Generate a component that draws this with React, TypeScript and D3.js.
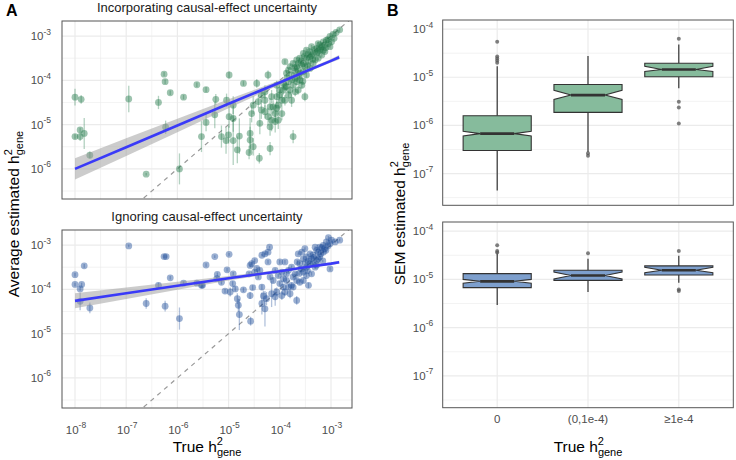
import React from 'react';
import * as d3 from 'd3';

// [log10 true h2, log10 estimated h2, error half-width in log10 units]
type Pt = [number, number, number];

const xTicksLeft = [-8, -7, -6, -5, -4, -3];
const yTicksLeft = [-6, -5, -4, -3];
const yTicksRight = [-7, -6, -5, -4];
const categories = ['0', '(0,1e-4)', '≥1e-4'];

const incorporating: Pt[] = [
  [-8.0, -4.38, 0.19], [-7.88, -4.43, 0.1], [-8.0, -5.27, 0.05], [-7.9, -5.27, 0.1],
  [-7.9, -5.12, 0.05], [-7.82, -5.2, 0.35], [-7.71, -5.69, 0.08], [-6.95, -4.42, 0.3],
  [-6.37, -4.5, 0.15], [-6.26, -3.86, 0.05], [-6.24, -4.03, 0.05], [-6.14, -4.28, 0.05],
  [-6.23, -5.06, 0.15], [-6.61, -6.12, 0.03], [-5.96, -6.0, 0.35], [-5.88, -4.38, 0.05],
  [-5.62, -4.1, 0.05], [-5.44, -4.21, 0.06], [-5.53, -5.27, 0.35], [-5.44, -4.95, 0.2],
  [-4.99, -3.88, 0.08], [-4.71, -4.07, 0.05], [-5.25, -4.43, 0.12], [-5.04, -4.45, 0.15],
  [-4.91, -4.56, 0.2], [-5.27, -4.78, 0.3], [-4.99, -4.82, 0.25], [-4.91, -4.86, 0.3],
  [-5.14, -5.27, 0.25], [-5.05, -5.36, 0.3], [-4.91, -5.36, 0.55], [-5.0, -5.23, 0.2],
  [-4.79, -5.26, 0.4], [-4.83, -5.57, 0.3], [-4.58, -5.2, 0.35], [-4.55, -4.75, 0.2],
  [-4.58, -5.35, 0.3], [-4.6, -5.63, 0.15], [-4.52, -5.5, 0.2], [-4.4, -5.76, 0.12],
  [-4.45, -4.07, 0.1], [-4.39, -4.97, 0.25], [-4.36, -4.67, 0.2], [-4.29, -4.45, 0.2],
  [-4.23, -3.88, 0.1], [-4.19, -4.6, 0.2], [-4.16, -4.9, 0.25], [-4.19, -5.54, 0.15],
  [-4.09, -4.93, 0.25], [-4.03, -4.9, 0.2], [-4.0, -4.22, 0.1], [-4.06, -4.37, 0.15],
  [-3.96, -4.45, 0.15], [-3.9, -3.58, 0.05], [-3.87, -4.14, 0.1], [-3.93, -4.07, 0.1],
  [-3.8, -4.22, 0.1], [-3.77, -4.45, 0.15], [-3.83, -3.77, 0.05], [-3.74, -5.27, 0.15],
  [-3.7, -3.96, 0.06], [-3.67, -3.69, 0.05], [-3.61, -3.84, 0.05], [-3.51, -4.37, 0.1],
  [-3.54, -3.62, 0.04], [-3.48, -3.5, 0.04], [-3.41, -3.47, 0.04], [-3.35, -3.39, 0.04],
  [-3.28, -3.28, 0.04], [-3.22, -3.2, 0.04], [-3.15, -3.13, 0.04], [-3.09, -3.09, 0.04],
  [-3.02, -3.01, 0.04], [-2.96, -2.96, 0.04], [-2.83, -2.86, 0.04], [-2.9, -2.92, 0.04],
  [-3.28, -3.39, 0.04], [-3.22, -3.32, 0.04], [-3.15, -3.32, 0.04], [-3.35, -3.62, 0.05],
  [-3.41, -3.73, 0.05], [-3.48, -3.88, 0.06], [-3.54, -3.8, 0.05], [-3.61, -3.99, 0.08],
  [-3.67, -4.03, 0.08], [-3.74, -4.11, 0.08], [-3.77, -3.88, 0.06], [-3.87, -3.84, 0.06],
  [-3.93, -4.22, 0.1], [-4.03, -4.56, 0.15], [-3.96, -4.75, 0.15], [-4.09, -4.75, 0.2],
  [-4.23, -4.82, 0.2], [-4.29, -4.71, 0.15], [-4.42, -4.48, 0.15], [-4.52, -4.56, 0.2],
  [-4.13, -4.6, 0.15], [-3.25, -3.17, 0.04], [-3.18, -3.24, 0.04], [-3.12, -3.2, 0.04],
  [-3.05, -3.17, 0.04], [-3.41, -3.35, 0.04], [-3.48, -3.32, 0.04], [-3.54, -3.39, 0.04],
  [-3.61, -3.5, 0.04], [-3.67, -3.54, 0.05], [-3.74, -3.62, 0.05], [-3.8, -3.69, 0.05],
  [-3.31, -3.54, 0.05], [-3.25, -3.5, 0.04], [-3.18, -3.43, 0.04], [-3.12, -3.35, 0.04],
  [-3.02, -3.24, 0.04], [-2.99, -3.13, 0.04], [-3.38, -3.24, 0.04], [-3.44, -3.58, 0.05],
  [-3.51, -3.69, 0.05], [-3.57, -3.65, 0.05], [-3.64, -3.77, 0.05], [-3.7, -3.8, 0.06],
  [-3.83, -4.03, 0.08], [-3.9, -4.14, 0.1], [-4.0, -4.33, 0.12], [-4.06, -4.11, 0.1],
  [-4.16, -4.37, 0.15], [-4.29, -4.26, 0.15], [-4.36, -4.33, 0.15], [-3.57, -4.11, 0.08],
  [-3.64, -4.22, 0.1], [-3.7, -4.26, 0.1], [-3.83, -4.33, 0.1], [-3.9, -4.45, 0.12],
  [-4.06, -4.63, 0.15], [-4.19, -5.05, 0.2], [-3.45, -3.42, 0.04], [-3.38, -3.44, 0.04],
  [-3.32, -3.3, 0.04], [-3.26, -3.36, 0.04], [-3.2, -3.28, 0.04], [-3.1, -3.26, 0.04],
  [-3.06, -3.08, 0.04], [-2.94, -3.05, 0.04], [-3.58, -3.56, 0.04], [-3.52, -3.46, 0.04],
  [-3.64, -3.62, 0.05], [-3.71, -3.72, 0.05], [-3.76, -3.98, 0.06], [-3.46, -3.66, 0.05],
  [-3.36, -3.52, 0.05], [-3.62, -3.9, 0.06], [-3.55, -4.02, 0.08], [-3.86, -3.94, 0.07],
];

const ignoring: Pt[] = [
  [-8.0, -3.67, 0.04], [-8.0, -3.89, 0.04], [-7.9, -3.99, 0.04], [-7.87, -3.89, 0.04],
  [-7.82, -3.47, 0.04], [-7.9, -4.27, 0.2], [-7.71, -4.42, 0.12], [-6.95, -3.02, 0.03],
  [-6.61, -4.32, 0.12], [-6.37, -3.91, 0.06], [-6.26, -3.26, 0.03], [-6.22, -3.26, 0.03],
  [-6.24, -4.38, 0.12], [-6.14, -3.74, 0.04], [-5.96, -4.66, 0.25], [-5.88, -3.86, 0.04],
  [-5.62, -3.86, 0.04], [-5.53, -3.91, 0.06], [-5.44, -3.45, 0.04], [-5.27, -3.26, 0.03],
  [-4.99, -3.21, 0.03], [-5.51, -3.91, 0.05], [-5.22, -3.66, 0.04], [-5.23, -3.76, 0.04],
  [-5.14, -3.84, 0.05], [-5.03, -3.56, 0.04], [-5.07, -4.04, 0.05], [-4.97, -4.06, 0.1],
  [-4.91, -3.65, 0.04], [-4.92, -3.87, 0.05], [-4.87, -3.99, 0.06], [-4.83, -4.21, 0.12],
  [-4.81, -4.36, 0.15], [-4.79, -4.57, 0.35], [-4.71, -4.01, 0.05], [-4.6, -3.65, 0.04],
  [-4.58, -4.14, 0.08], [-4.57, -4.72, 0.1], [-4.53, -3.96, 0.05], [-4.55, -3.42, 0.04],
  [-4.49, -3.35, 0.04], [-4.45, -3.53, 0.04], [-4.39, -3.57, 0.04], [-4.35, -3.95, 0.06],
  [-4.35, -4.32, 0.25], [-4.32, -4.15, 0.12], [-4.29, -4.44, 0.4], [-4.35, -3.23, 0.03],
  [-4.29, -3.2, 0.03], [-4.23, -3.16, 0.03], [-4.2, -3.05, 0.03], [-4.23, -3.38, 0.04],
  [-4.19, -3.72, 0.04], [-4.16, -4.1, 0.3], [-4.26, -4.21, 0.15], [-4.09, -4.17, 0.2],
  [-4.06, -4.06, 0.1], [-4.13, -3.8, 0.05], [-4.0, -3.38, 0.04], [-3.96, -3.61, 0.04],
  [-3.93, -3.95, 0.06], [-3.9, -3.38, 0.04], [-3.87, -3.8, 0.05], [-3.83, -3.57, 0.04],
  [-3.8, -4.1, 0.1], [-3.77, -3.91, 0.06], [-3.74, -3.72, 0.04], [-3.67, -4.25, 0.1],
  [-3.66, -3.38, 0.04], [-3.64, -3.2, 0.03], [-3.61, -3.84, 0.05], [-3.57, -3.16, 0.03],
  [-3.54, -3.61, 0.04], [-3.51, -3.08, 0.03], [-3.48, -3.27, 0.03], [-3.44, -3.91, 0.06],
  [-3.41, -3.42, 0.03], [-3.38, -3.65, 0.04], [-3.35, -3.23, 0.03], [-3.31, -3.5, 0.04],
  [-3.28, -3.35, 0.03], [-3.25, -3.16, 0.03], [-3.22, -3.27, 0.03], [-3.18, -3.06, 0.03],
  [-3.15, -3.01, 0.03], [-3.09, -2.93, 0.03], [-3.05, -2.83, 0.03], [-3.02, -2.97, 0.03],
  [-3.02, -3.54, 0.04], [-2.99, -2.89, 0.03], [-2.92, -2.93, 0.03], [-2.83, -2.89, 0.03],
  [-3.61, -3.42, 0.04], [-3.54, -3.31, 0.03], [-3.48, -3.5, 0.04], [-3.41, -3.2, 0.03],
  [-3.35, -3.42, 0.03], [-3.28, -3.12, 0.03], [-3.25, -3.31, 0.03], [-3.22, -3.05, 0.03],
  [-3.15, -3.16, 0.03], [-3.12, -3.08, 0.03], [-3.7, -3.65, 0.04], [-3.77, -3.5, 0.04],
  [-3.87, -3.65, 0.04], [-3.93, -3.76, 0.05], [-4.0, -3.87, 0.05], [-4.03, -3.69, 0.04],
  [-4.09, -3.57, 0.04], [-4.42, -3.72, 0.04], [-4.49, -3.61, 0.04], [-4.58, -3.46, 0.04],
  [-3.83, -3.95, 0.06], [-3.9, -4.06, 0.08], [-3.96, -4.14, 0.1], [-3.74, -3.95, 0.06],
  [-3.67, -3.8, 0.05], [-3.54, -3.8, 0.05], [-3.48, -3.69, 0.04], [-3.38, -3.31, 0.03],
  [-3.31, -3.05, 0.03], [-3.44, -3.36, 0.03], [-3.34, -3.28, 0.03], [-3.2, -3.2, 0.03],
  [-3.1, -3.12, 0.03], [-3.58, -3.54, 0.04], [-3.5, -3.4, 0.03], [-3.62, -3.64, 0.04],
  [-3.28, -3.45, 0.03], [-3.16, -3.36, 0.03], [-3.06, -3.02, 0.03], [-3.46, -3.58, 0.04],
];

// fitted regression line (geom_smooth, lm) with its confidence half-width
const fitX = [-8, -7, -6, -5, -4, -3.5, -3, -2.84];
const fitIncY = [-6.0, -5.51, -5.02, -4.53, -4.05, -3.8, -3.56, -3.48];
const fitIncSe = [0.24, 0.2, 0.15, 0.1, 0.05, 0.035, 0.04, 0.05];
const fitIgnY = [-4.26, -4.09, -3.92, -3.75, -3.59, -3.5, -3.42, -3.39];
const fitIgnSe = [0.17, 0.13, 0.09, 0.05, 0.03, 0.025, 0.03, 0.035];

type Box = { lo: number; q1: number; med: number; q3: number; hi: number; nLo: number; nHi: number; out: number[] };

const boxIncorporating: Box[] = [
  { lo: -7.35, q1: -6.52, med: -6.17, q3: -5.8, hi: -4.77, nLo: -6.22, nHi: -6.12, out: [-4.26, -4.57, -4.61, -4.65, -4.7] },
  { lo: -6.55, q1: -5.73, med: -5.37, q3: -5.15, hi: -4.56, nLo: -5.46, nHi: -5.27, out: [-6.58, -6.63] },
  { lo: -5.23, q1: -4.99, med: -4.84, q3: -4.71, hi: -4.32, nLo: -4.88, nHi: -4.77, out: [-4.2, -5.51, -5.63, -5.96] },
];
const boxIgnoring: Box[] = [
  { lo: -5.53, q1: -5.17, med: -5.04, q3: -4.88, hi: -4.46, nLo: -5.08, nHi: -5.0, out: [-4.29, -4.41, -4.44] },
  { lo: -5.26, q1: -5.02, med: -4.92, q3: -4.81, hi: -4.57, nLo: -4.99, nHi: -4.85, out: [-4.46] },
  { lo: -5.07, q1: -4.91, med: -4.81, q3: -4.72, hi: -4.51, nLo: -4.86, nHi: -4.75, out: [-4.41, -5.21, -5.24] },
];

const FONT = '"Liberation Sans", Arial, Helvetica, sans-serif';
const TICK = '#4D4D4D';
const GRID = '#EBEBEB';
const GREEN = '#237A4B';
const BLUE = '#1F4E99';
const GREEN_BOX = '#86BB9C';
const BLUE_BOX = '#7D9FCD';

const Pow = ({ x, y, exp, anchor }: { x: number; y: number; exp: number; anchor: string }) => (
  <text x={x} y={y} textAnchor={anchor} fontSize={11.5} fill={TICK} fontFamily={FONT}>
    10<tspan dy={-5.5} fontSize={8.5}>{String(exp)}</tspan>
  </text>
);

const minorOf = (ticks: number[], dom: number[]) => {
  const lo = Math.min(dom[0], dom[1]);
  const hi = Math.max(dom[0], dom[1]);
  const s = new Set<number>();
  ticks.forEach((t) => [t - 0.5, t + 0.5].forEach((m) => { if (m > lo && m < hi) s.add(m); }));
  return Array.from(s);
};

type ScatterProps = {
  id: string;
  data: Pt[];
  y: d3.ScaleLinear<number, number>;
  x: d3.ScaleLinear<number, number>;
  color: string;
  fitY: number[];
  fitSe: number[];
  title: string;
  showX: boolean;
};

const Scatter = ({ id, data, x, y, color, fitY, fitSe, title, showX }: ScatterProps) => {
  const [x0, x1] = x.range();
  const [y1, y0] = y.range();
  const idx = fitX.map((_, i) => i);
  const band = d3.area<number>()
    .x((i) => x(fitX[i]))
    .y0((i) => y(fitY[i] - fitSe[i]))
    .y1((i) => y(fitY[i] + fitSe[i]))(idx);
  const fit = d3.line<number>().x((i) => x(fitX[i])).y((i) => y(fitY[i]))(idx);
  const xd = x.domain();
  return (
    <g>
      <defs>
        <clipPath id={id}><rect x={x0} y={y0} width={x1 - x0} height={y1 - y0} /></clipPath>
      </defs>
      <rect x={x0} y={y0} width={x1 - x0} height={y1 - y0} fill="#fff" />
      {minorOf(xTicksLeft, x.domain()).map((t) => (
        <line key={'mx' + t} x1={x(t)} x2={x(t)} y1={y0} y2={y1} stroke={GRID} strokeWidth={0.6} />
      ))}
      {minorOf(yTicksLeft, y.domain()).map((t) => (
        <line key={'my' + t} x1={x0} x2={x1} y1={y(t)} y2={y(t)} stroke={GRID} strokeWidth={0.6} />
      ))}
      {xTicksLeft.map((t) => (
        <line key={'gx' + t} x1={x(t)} x2={x(t)} y1={y0} y2={y1} stroke={GRID} strokeWidth={1.2} />
      ))}
      {yTicksLeft.map((t) => (
        <line key={'gy' + t} x1={x0} x2={x1} y1={y(t)} y2={y(t)} stroke={GRID} strokeWidth={1.2} />
      ))}
      <g clipPath={`url(#${id})`}>
        <line x1={x(xd[0])} y1={y(xd[0])} x2={x(xd[1])} y2={y(xd[1])} stroke="#999" strokeWidth={1.2} strokeDasharray="4.5,4.5" />
        {data.map((d, i) => (
          <line key={'e' + i} x1={x(d[0])} x2={x(d[0])} y1={y(d[1] - d[2])} y2={y(d[1] + d[2])}
            stroke={color} strokeOpacity={0.35} strokeWidth={1.3} />
        ))}
        {data.map((d, i) => (
          <circle key={'p' + i} cx={x(d[0])} cy={y(d[1])} r={3.4} fill={color} fillOpacity={0.45} />
        ))}
        <path d={band || ''} fill="#999" fillOpacity={0.5} />
        <path d={fit || ''} fill="none" stroke="#3A3AF8" strokeWidth={2.6} />
      </g>
      <rect x={x0} y={y0} width={x1 - x0} height={y1 - y0} fill="none" stroke="#555" strokeWidth={1} />
      {yTicksLeft.map((t) => (
        <Pow key={'ty' + t} x={x0 - 11} y={y(t) + 4} exp={t} anchor="end" />
      ))}
      {showX && xTicksLeft.map((t) => (
        <Pow key={'tx' + t} x={x(t) + 1} y={y1 + 25.5} exp={t} anchor="middle" />
      ))}
      <text x={(x0 + x1) / 2} y={y0 - 9} textAnchor="middle" fontSize={13} fill="#1a1a1a" fontFamily={FONT}>{title}</text>
    </g>
  );
};

type BoxProps = { id: string; stats: Box[]; y: d3.ScaleLinear<number, number>; fill: string; showX: boolean };

const BoxPanel = ({ stats, y, fill, showX }: BoxProps) => {
  const xs = d3.scalePoint<string>().domain(categories).range([442.7, 733.3]).padding(0.6);
  const [x0, x1] = xs.range();
  const [y1, y0] = y.range();
  const half = (xs.step() * 0.75) / 2;
  const inset = half * 0.5;
  return (
    <g>
      <rect x={x0} y={y0} width={x1 - x0} height={y1 - y0} fill="#fff" />
      {minorOf(yTicksRight, y.domain()).map((t) => (
        <line key={'my' + t} x1={x0} x2={x1} y1={y(t)} y2={y(t)} stroke={GRID} strokeWidth={0.6} />
      ))}
      {yTicksRight.map((t) => (
        <line key={'gy' + t} x1={x0} x2={x1} y1={y(t)} y2={y(t)} stroke={GRID} strokeWidth={1.2} />
      ))}
      {categories.map((c) => (
        <line key={'gx' + c} x1={xs(c)} x2={xs(c)} y1={y0} y2={y1} stroke={GRID} strokeWidth={1.2} />
      ))}
      {stats.map((s, i) => {
        const cx = xs(categories[i]) as number;
        const L = cx - half;
        const R = cx + half;
        const p = [
          [L, y(s.q3)], [R, y(s.q3)], [R, y(s.nHi)], [R - inset, y(s.med)], [R, y(s.nLo)],
          [R, y(s.q1)], [L, y(s.q1)], [L, y(s.nLo)], [L + inset, y(s.med)], [L, y(s.nHi)],
        ];
        return (
          <g key={'b' + i}>
            <line x1={cx} x2={cx} y1={y(s.q3)} y2={y(s.hi)} stroke="#222" strokeWidth={1.1} />
            <line x1={cx} x2={cx} y1={y(s.q1)} y2={y(s.lo)} stroke="#222" strokeWidth={1.1} />
            <path d={'M' + p.map((q) => q.join(',')).join('L') + 'Z'} fill={fill} stroke="#333" strokeWidth={1.1} />
            <line x1={L + inset} x2={R - inset} y1={y(s.med)} y2={y(s.med)} stroke="#333" strokeWidth={2.6} />
            {s.out.map((o, j) => (
              <circle key={'o' + j} cx={cx} cy={y(o)} r={2} fill="#555" fillOpacity={0.75} />
            ))}
          </g>
        );
      })}
      <rect x={x0} y={y0} width={x1 - x0} height={y1 - y0} fill="none" stroke="#555" strokeWidth={1} />
      {yTicksRight.map((t) => (
        <Pow key={'ty' + t} x={x0 - 9.5} y={y(t) + 4} exp={t} anchor="end" />
      ))}
      {showX && categories.map((c) => (
        <text key={'tc' + c} x={xs(c)} y={y1 + 15.5} textAnchor="middle" fontSize={11.5} fill={TICK} fontFamily={FONT}>{c}</text>
      ))}
    </g>
  );
};

const H2 = ({ x, y, pre, rotate }: { x: number; y: number; pre: string; rotate?: boolean }) => (
  <text x={x} y={y} textAnchor="middle" fontSize={15.5} fill="#000" fontFamily={FONT}
    transform={rotate ? `rotate(-90,${x},${y})` : undefined}>
    {pre}<tspan dy={-7} fontSize={11}>2</tspan><tspan dx={-6.1} dy={11} fontSize={11}>gene</tspan>
  </text>
);

export default function App() {
  const xLeft = d3.scaleLinear().domain([-8.254, -2.59]).range([62, 352]);
  const yTop = d3.scaleLinear().domain([-6.68, -2.66]).range([199, 21]);
  const yBot = d3.scaleLinear().domain([-6.68, -2.66]).range([408, 230]);
  const yRTop = d3.scaleLinear().domain([-7.66, -3.81]).range([205.3, 20]);
  const yRBot = d3.scaleLinear().domain([-7.66, -3.81]).range([407.7, 222]);
  return (
    <svg width={736} height={460} style={{ position: 'absolute', left: 0, top: 0, background: '#fff' }}>
      <rect width={736} height={460} fill="#fff" />
      <Scatter id="clipA1" data={incorporating} x={xLeft} y={yTop} color={GREEN} fitY={fitIncY} fitSe={fitIncSe}
        title="Incorporating causal-effect uncertainty" showX={false} />
      <Scatter id="clipA2" data={ignoring} x={xLeft} y={yBot} color={BLUE} fitY={fitIgnY} fitSe={fitIgnSe}
        title="Ignoring causal-effect uncertainty" showX />
      <BoxPanel id="b1" stats={boxIncorporating} y={yRTop} fill={GREEN_BOX} showX={false} />
      <BoxPanel id="b2" stats={boxIgnoring} y={yRBot} fill={BLUE_BOX} showX />
      <H2 x={207} y={452} pre="True h" />
      <H2 x={588} y={452} pre="True h" />
      <H2 x={19} y={214} pre="Average estimated h" rotate />
      <H2 x={405} y={214} pre="SEM estimated h" rotate />
      <text x={6} y={15.5} fontSize={16} fontWeight="bold" fontFamily={FONT}>A</text>
      <text x={387} y={15.5} fontSize={16} fontWeight="bold" fontFamily={FONT}>B</text>
    </svg>
  );
}
